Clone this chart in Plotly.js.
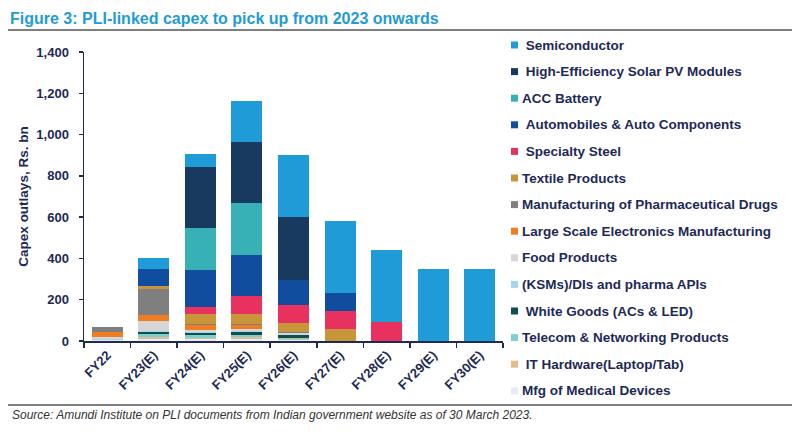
<!DOCTYPE html>
<html>
<head>
<meta charset="utf-8">
<script src="https://cdn.plot.ly/plotly-3.0.1.min.js"></script>
<style>html,body{margin:0;padding:0;background:#fff;}#chart{width:800px;height:434px;}</style>
</head>
<body>
<div id="chart"></div>
<script>
// ---- Data (Rs. bn) ----
const categories = ["FY22","FY23(E)","FY24(E)","FY25(E)","FY26(E)","FY27(E)","FY28(E)","FY29(E)","FY30(E)"];

const medicalDevices   = [3, 10, 8, 10, 4, 0, 0, 0, 0];
const itHardware       = [2, 8, 8, 8, 4, 0, 0, 0, 0];
const telecom          = [2, 14, 12, 12, 8, 0, 0, 0, 0];
const whiteGoods       = [0, 10, 11, 13, 11, 0, 0, 0, 0];
const ksmsApis         = [4, 8, 6, 5, 4, 0, 0, 0, 0];
const foodProducts     = [10, 48, 8, 8, 6, 0, 0, 0, 0];
const largeElectronics = [24, 27, 25, 22, 3, 0, 0, 0, 0];
const pharmaDrugs      = [24, 128, 6, 5, 2, 0, 0, 0, 0];
const textileProducts  = [0, 12, 45, 48, 45, 56, 0, 0, 0];
const specialtySteel   = [0, 0, 37, 88, 89, 88, 93, 0, 0];
const autoComponents   = [0, 85, 180, 197, 121, 88, 0, 0, 0];
const accBattery       = [0, 0, 200, 251, 0, 0, 0, 0, 0];
const solarPV          = [0, 0, 298, 296, 305, 0, 0, 0, 0];
const semiconductor    = [0, 53, 62, 198, 300, 348, 347, 351, 351];

// Stack order: bottom -> top
const seriesNames = [
  "Mfg of Medical Devices",
  "\u00a0IT Hardware(Laptop/Tab)",
  "Telecom & Networking Products",
  "\u00a0White Goods (ACs & LED)",
  "(KSMs)/DIs and pharma APIs",
  "Food Products",
  "Large Scale Electronics Manufacturing",
  "Manufacturing of Pharmaceutical Drugs",
  "Textile Products",
  "\u00a0Specialty Steel",
  "\u00a0Automobiles & Auto Components",
  "ACC Battery",
  "\u00a0High-Efficiency Solar PV Modules",
  "\u00a0Semiconductor"
];
const seriesValues = [medicalDevices, itHardware, telecom, whiteGoods, ksmsApis, foodProducts,
  largeElectronics, pharmaDrugs, textileProducts, specialtySteel, autoComponents, accBattery, solarPV, semiconductor];
const seriesColors = ["#e4edf6","#e2bc8c","#7fcfcf","#0d4f4c","#a6d4ee","#d6d6d6",
  "#f07d21","#7f7f7f","#c9953a","#e8315f","#114d9f","#37b1b5","#173a5e","#1f9bd7"];

// ---- Layout geometry (pixels) ----
const L = 84, R = 503, T = 52, B = 341;
const px = p => (p - L) / (R - L);
const py = p => (B - p) / (B - T);
const navy = "#1c2a55";
const FONT = "Liberation Sans, Arial, sans-serif";

const traces = seriesNames.map((n, i) => ({
  type: "bar",
  name: n,
  x: categories,
  y: seriesValues[i],
  marker: {color: seriesColors[i], line: {width: 0}},
  showlegend: false,
  hoverinfo: "x+y+name"
}));

// Manual legend (top entry = top of stack)
const shapes = [];
const annotations = [];
const legendTop = 45, legendStep = 26.6;
for (let k = 0; k < seriesNames.length; k++) {
  const i = seriesNames.length - 1 - k;
  const yc = legendTop + k * legendStep;
  shapes.push({type: "rect", xref: "paper", yref: "paper",
    x0: px(511), x1: px(518), y0: py(yc + 3.5), y1: py(yc - 3.5),
    fillcolor: seriesColors[i], line: {width: 0}});
  annotations.push({xref: "paper", yref: "paper", x: px(520), y: py(yc),
    xanchor: "left", yanchor: "middle", showarrow: false, text: seriesNames[i],
    font: {family: FONT, size: 13.5, color: navy, weight: "bold"}});
}
// Separator lines
shapes.push({type: "line", xref: "paper", yref: "paper", x0: px(8), x1: px(792), y0: py(30), y1: py(30),
  line: {color: "#7f7f7f", width: 2}});
shapes.push({type: "line", xref: "paper", yref: "paper", x0: px(8), x1: px(792), y0: py(405), y1: py(405),
  line: {color: "#7f7f7f", width: 2}});
// Source note
annotations.push({xref: "paper", yref: "paper", x: px(10), y: py(415), xanchor: "left", yanchor: "middle",
  showarrow: false, text: "<i>Source: Amundi Institute on PLI documents from Indian government website as of 30 March 2023.</i>",
  font: {family: FONT, size: 12, color: "#333333"}});

const layout = {
  width: 800, height: 434,
  margin: {l: L, r: 800 - R, t: T, b: 434 - B, pad: 0},
  paper_bgcolor: "#ffffff", plot_bgcolor: "#ffffff",
  barmode: "stack", bargap: 0.333,
  font: {family: FONT, color: navy},
  title: {text: "Figure 3: PLI-linked capex to pick up from 2023 onwards",
    xref: "container", yref: "container", x: 10 / 800, xanchor: "left", y: 1 - 18 / 434, yanchor: "middle",
    font: {family: FONT, size: 16, color: "#1f9bd7", weight: "bold"}},
  xaxis: {type: "category", showgrid: false, zeroline: false, showline: true, linecolor: navy, linewidth: 1.5,
    ticks: "outside", tickson: "boundaries", ticklen: 5, tickcolor: navy, tickwidth: 1.5,
    tickangle: -45, tickfont: {family: FONT, size: 13, color: navy, weight: "bold"}, automargin: false},
  yaxis: {range: [0, 1400], tickvals: [0,200,400,600,800,1000,1200,1400], tickformat: ",d",
    showgrid: false, zeroline: false, showline: true, linecolor: navy, linewidth: 1.5,
    ticks: "outside", ticklen: 4, tickcolor: navy, tickwidth: 1.5, ticklabelstandoff: 7,
    tickfont: {family: FONT, size: 13, color: navy, weight: "bold"},
    title: {text: "Capex outlays, Rs. bn", standoff: 4, font: {family: FONT, size: 13.5, color: navy, weight: "bold"}},
    automargin: false},
  shapes: shapes,
  annotations: annotations
};

Plotly.newPlot("chart", traces, layout, {displayModeBar: false, staticPlot: true});
</script>
</body>
</html>
